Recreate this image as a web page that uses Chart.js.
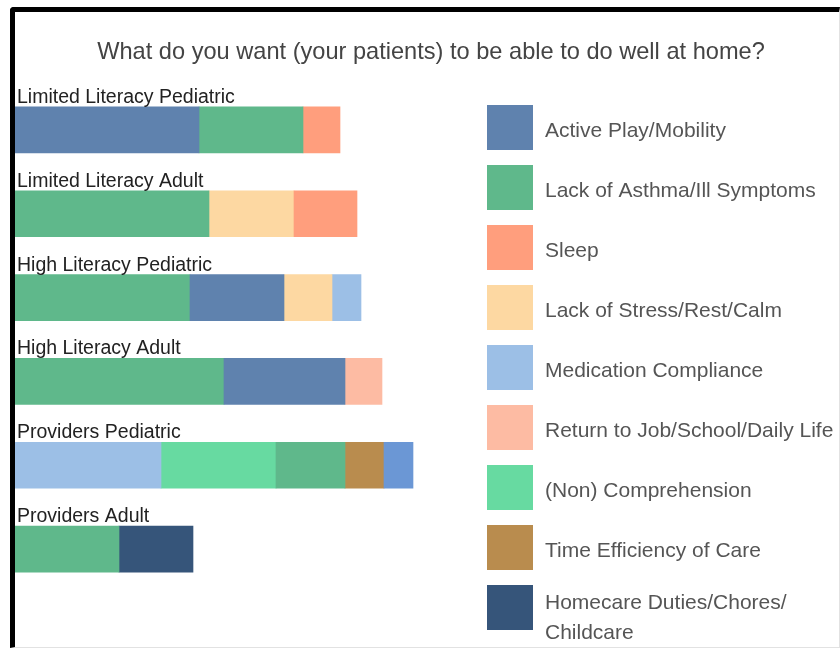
<!DOCTYPE html>
<html>
<head>
<meta charset="utf-8">
<script src="https://cdn.jsdelivr.net/npm/chart.js@4/dist/chart.umd.min.js"></script>
<style>
  html, body { margin: 0; padding: 0; background: #ffffff; }
  #wrap { position: relative; width: 840px; height: 649px; }
  #frame {
    position: absolute; left: 10px; top: 7px; width: 824px; height: 635px;
    border-top: 5px solid #000; border-left: 5px solid #000;
    border-right: 1px solid #e2e2e2; border-bottom: 1px solid #e2e2e2;
    border-top-left-radius: 4px; pointer-events: none;
  }
</style>
</head>
<body>
<div id="wrap">
  <canvas id="c" width="840" height="649"></canvas>
  <div id="frame"></div>
</div>
<script>
const chartTitle = 'What do you want (your patients) to be able to do well at home?';

const categories = [
  'Limited Literacy Pediatric',
  'Limited Literacy Adult',
  'High Literacy Pediatric',
  'High Literacy Adult',
  'Providers Pediatric',
  'Providers Adult'
];

const seriesNames = [
  'Active Play/Mobility',
  'Lack of Asthma/Ill Symptoms',
  'Sleep',
  'Lack of Stress/Rest/Calm',
  'Medication Compliance',
  'Return to Job/School/Daily Life',
  '(Non) Comprehension',
  'Time Efficiency of Care',
  'Homecare Duties/Chores/\nChildcare'
];

// values per category (in category order)
const activePlay    = [18.4, 0,    9.4,  12.1, 2.9,  0];
const asthma        = [10.4, 19.4, 17.5, 20.9, 6.9,  10.4];
const sleep         = [3.7,  6.3,  0,    0,    0,    0];
const stress        = [0,    8.5,  4.8,  0,    0,    0];
const medication    = [0,    0,    2.9,  0,    14.6, 0];
const returnLife    = [0,    0,    0,    3.7,  0,    0];
const comprehension = [0,    0,    0,    0,    11.5, 0];
const timeEff       = [0,    0,    0,    0,    3.9,  0];
const homecare      = [0,    0,    0,    0,    0,    7.4];

const seriesValues = [activePlay, asthma, sleep, stress, medication, returnLife, comprehension, timeEff, homecare];

// order of segments (series index) inside each bar, left to right
const segmentOrder = [
  [0, 1, 2],
  [1, 3, 2],
  [1, 0, 3, 4],
  [1, 0, 5],
  [4, 6, 1, 7, 0],
  [1, 8]
];

const seriesColors = ['#5f82ae', '#5fb88b', '#ff9e7d', '#fdd8a2', '#9cbfe6', '#fdbba3', '#67daa1', '#b98c4e', '#36557a'];
// Active Play segment in the Providers Pediatric bar is drawn in a brighter blue
const activePlayShades = ['#5f82ae', '#5f82ae', '#5f82ae', '#5f82ae', '#6b97d5', '#5f82ae'];

// build floating-bar datasets from the arrays above
const floating = seriesNames.map(() => categories.map(() => null));
segmentOrder.forEach((order, ci) => {
  let start = 0;
  order.forEach(si => {
    const v = seriesValues[si][ci];
    floating[si][ci] = [start, start + v];
    start += v;
  });
});

const datasets = seriesNames.map((name, si) => ({
  label: name,
  data: floating[si],
  backgroundColor: si === 0 ? activePlayShades : seriesColors[si],
  legendColor: seriesColors[si],
  borderWidth: 0,
  grouped: false,
  barThickness: 46
}));

const titlePlugin = {
  id: 'customTitle',
  afterDraw(chart) {
    const ctx = chart.ctx;
    ctx.save();
    ctx.font = '23.6px "Liberation Sans", Arial, sans-serif';
    ctx.fillStyle = '#444444';
    ctx.textAlign = 'center';
    ctx.textBaseline = 'alphabetic';
    ctx.fillText(chartTitle, 431, 59);
    ctx.restore();
  }
};

const barLabelPlugin = {
  id: 'barLabels',
  afterDatasetsDraw(chart) {
    const ctx = chart.ctx;
    const y = chart.scales.y;
    ctx.save();
    ctx.font = '19.5px "Liberation Sans", Arial, sans-serif';
    ctx.fillStyle = '#222222';
    ctx.textAlign = 'left';
    ctx.textBaseline = 'alphabetic';
    categories.forEach((cat, i) => {
      const cy = y.getPixelForValue(i);
      ctx.fillText(cat, 17, cy - 23 - 4);
    });
    ctx.restore();
  }
};

const legendPlugin = {
  id: 'sideLegend',
  afterDraw(chart) {
    const ctx = chart.ctx;
    const boxX = 487, boxW = 46, boxH = 45, top0 = 105, step = 60, textX = 545;
    ctx.save();
    ctx.font = '21px "Liberation Sans", Arial, sans-serif';
    ctx.textAlign = 'left';
    ctx.textBaseline = 'alphabetic';
    chart.data.datasets.forEach((ds, i) => {
      const top = top0 + i * step;
      const cy = top + boxH / 2;
      ctx.fillStyle = ds.legendColor;
      ctx.fillRect(boxX, top, boxW, boxH);
      ctx.fillStyle = '#555555';
      const lines = ds.label.split('\n');
      if (lines.length === 1) {
        ctx.fillText(lines[0], textX, cy + 9);
      } else {
        lines.forEach((ln, k) => ctx.fillText(ln, textX, cy + 1 + k * 30));
      }
    });
    ctx.restore();
  }
};

new Chart(document.getElementById('c'), {
  type: 'bar',
  data: { labels: categories, datasets },
  options: {
    indexAxis: 'y',
    responsive: false,
    animation: false,
    layout: { padding: { left: 15, right: 425, top: 88, bottom: 58 } },
    scales: {
      x: { display: false, min: 0, max: 40 },
      y: { display: false }
    },
    plugins: {
      legend: { display: false },
      title: { display: false },
      tooltip: { enabled: false }
    }
  },
  plugins: [titlePlugin, barLabelPlugin, legendPlugin]
});
</script>
</body>
</html>
